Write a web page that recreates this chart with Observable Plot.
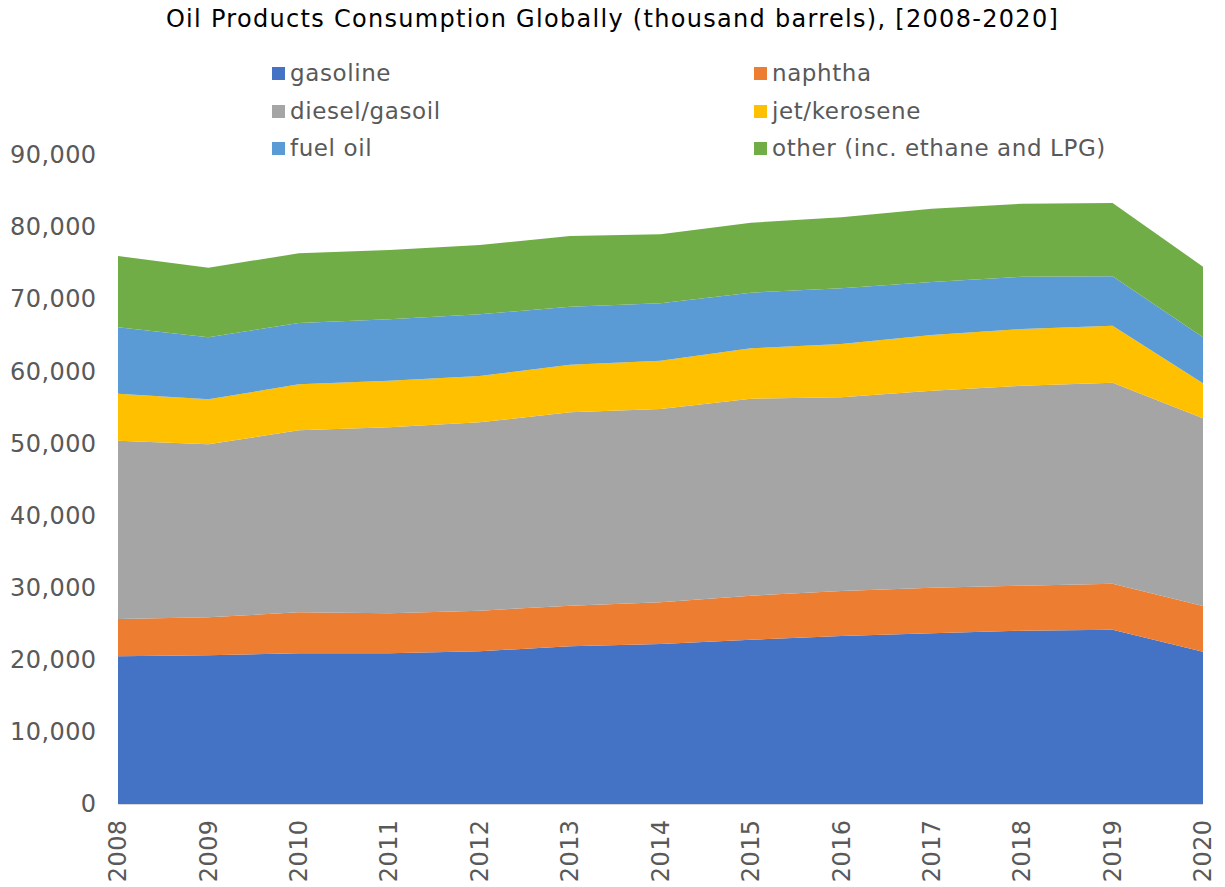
<!DOCTYPE html>
<html><head><meta charset="utf-8">
<script src="https://cdn.jsdelivr.net/npm/d3@7"></script>
<script src="https://cdn.jsdelivr.net/npm/@observablehq/plot@0.6"></script>
<style>
body{margin:0;background:#fff;font-family:"DejaVu Sans",Verdana,sans-serif;}
#wrap{position:relative;width:1225px;height:887px;overflow:hidden;}
#chart{position:absolute;left:0;top:0;}
#title{position:absolute;left:0;width:1225px;top:5px;text-align:center;font-size:24px;letter-spacing:1.3px;color:#000;white-space:nowrap;}
.leg{position:absolute;font-size:23px;letter-spacing:0.6px;color:#595959;display:flex;align-items:center;white-space:nowrap;height:30px;}
.sw{width:13px;height:13px;margin-right:5px;display:inline-block;}
#chart svg text{letter-spacing:0.4px;}
</style></head>
<body>
<div id="wrap">
  <div id="chart"></div>
  <div id="title">Oil Products Consumption Globally (thousand barrels), [2008-2020]</div>
  <div id="legend"></div>
</div>
<script>
const years = [2008, 2009, 2010, 2011, 2012, 2013, 2014, 2015, 2016, 2017, 2018, 2019, 2020];
const seriesNames = ["gasoline", "naphtha", "diesel/gasoil", "jet/kerosene", "fuel oil", "other (inc. ethane and LPG)"];
const seriesColors = ["#4472C4", "#ED7D31", "#A5A5A5", "#FFC000", "#5B9BD5", "#70AD47"];
const gasoline = [20480, 20620, 20900, 20900, 21180, 21870, 22190, 22780, 23300, 23670, 24030, 24170, 21120];
const naphtha  = [5180, 5270, 5680, 5550, 5630, 5630, 5780, 6110, 6240, 6330, 6240, 6380, 6340];
const diesel   = [24720, 23990, 25240, 25790, 26120, 26820, 26810, 27320, 26860, 27320, 27740, 27880, 26030];
const jet      = [6520, 6240, 6380, 6460, 6420, 6600, 6700, 6980, 7390, 7720, 7860, 7900, 4850];
const fuelOil  = [9210, 8600, 8500, 8520, 8560, 8040, 7960, 7720, 7730, 7350, 7250, 6850, 6380];
const other    = [9890, 9650, 9670, 9610, 9610, 9810, 9560, 9700, 9840, 10170, 10130, 10170, 9790];
const yTicks = [0, 10000, 20000, 30000, 40000, 50000, 60000, 70000, 80000, 90000];

const seriesValues = [gasoline, naphtha, diesel, jet, fuelOil, other];
const data = [];
seriesNames.forEach((s, i) => years.forEach((yr, j) => data.push({series: s, year: yr, value: seriesValues[i][j]})));

const fmt = d3.format(",");
const plot = Plot.plot({
  width: 1225,
  height: 887,
  marginTop: 155,
  marginBottom: 83,
  marginLeft: 118,
  marginRight: 22,
  style: {fontFamily: '"DejaVu Sans", Verdana, sans-serif', color: "#595959", background: "#fff"},
  x: {domain: [2008, 2020], ticks: years, tickFormat: d => String(d), label: null, tickSize: 0, tickPadding: 15, tickRotate: -90},
  y: {domain: [0, 90000], ticks: yTicks, tickFormat: fmt, label: null, tickSize: 0, tickPadding: 22},
  color: {domain: seriesNames, range: seriesColors},
  marks: [
    Plot.areaY(data, {x: "year", y: "value", z: "series", fill: "series", order: seriesNames}),
    Plot.ruleY([0], {stroke: "#D9D9D9", strokeWidth: 1}),
    Plot.axisY({ticks: yTicks, tickFormat: fmt, tickSize: 0, tickPadding: 22, fontSize: 24, fill: "#595959", label: null}),
    Plot.axisX({ticks: years, tickFormat: d => String(d), tickSize: 0, tickPadding: 15, tickRotate: -90, fontSize: 24, fill: "#595959", label: null})
  ]
});
document.getElementById("chart").appendChild(plot);

const legend = document.getElementById("legend");
const legPos = [[272, 73], [754, 73], [272, 111], [754, 111], [272, 148], [754, 148]];
seriesNames.forEach((s, i) => {
  const d = document.createElement("div");
  d.className = "leg";
  d.style.left = legPos[i][0] + "px";
  d.style.top = (legPos[i][1] - 15) + "px";
  const sw = document.createElement("span");
  sw.className = "sw";
  sw.style.background = seriesColors[i];
  d.appendChild(sw);
  d.appendChild(document.createTextNode(s));
  legend.appendChild(d);
});
</script>
</body></html>
